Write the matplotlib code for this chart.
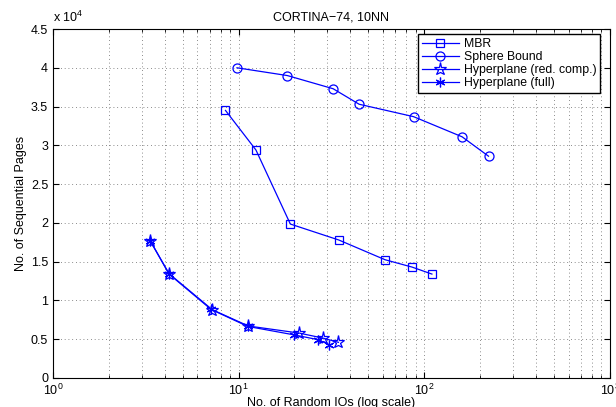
import numpy as np
import matplotlib
matplotlib.use('Agg')
import matplotlib.pyplot as plt
from matplotlib.ticker import FixedLocator, FuncFormatter, LogLocator

plt.rcParams['font.family'] = ['Liberation Sans', 'DejaVu Sans']
plt.rcParams['mathtext.default'] = 'regular'
plt.rcParams['font.size'] = 9

# data
mbr_x = [8.5, 12.4, 19.0, 34.6, 61.5, 86.0, 110.0]
mbr_y = [34500, 29400, 19850, 17800, 15250, 14300, 13400]

sphere_x = [9.8, 18.3, 32.3, 44.6, 87.6, 160.0, 222.0]
sphere_y = [40000, 39000, 37300, 35300, 33700, 31100, 28600]

hp_red_x = [3.34, 4.22, 7.22, 11.3, 21.1, 28.4, 34.5]
hp_red_y = [17700, 13450, 8800, 6700, 5800, 5150, 4600]

hp_full_x = [3.34, 4.22, 7.1, 11.2, 20.0, 26.7, 30.8]
hp_full_y = [17700, 13400, 8850, 6650, 5550, 4950, 4300]

y_ticks = np.arange(0, 4.51e4, 0.5e4)

fig = plt.figure(figsize=(6.16, 4.07), dpi=100)
ax = fig.add_axes([0.086, 0.0713, 0.904, 0.8574])

blue = (0, 0, 1)
ax.plot(mbr_x, mbr_y, color=blue, lw=0.9, marker='s', ms=5.5, mfc='none', mew=0.9, label='MBR')
ax.plot(sphere_x, sphere_y, color=blue, lw=0.9, marker='o', ms=6.5, mfc='none', mew=0.9, label='Sphere Bound')
ax.plot(hp_red_x, hp_red_y, color=blue, lw=0.9, marker='*', ms=9.5, mfc='none', mew=0.9,
        label='Hyperplane (red. comp.)')
ax.plot(hp_full_x, hp_full_y, color=blue, lw=0.9, marker=(6, 2, 0), ms=7, mew=0.9,
        label='Hyperplane (full)')

ax.set_xscale('log')
ax.set_xlim(1, 1000)
ax.set_ylim(0, 4.5e4)
ax.yaxis.set_major_locator(FixedLocator(y_ticks))
ax.yaxis.set_major_formatter(FuncFormatter(lambda v, p: ('%g' % (v / 1e4))))
ax.xaxis.set_minor_locator(LogLocator(base=10, subs=np.arange(2, 10)))

ax.grid(True, which='major', ls=(0, (1, 3.5)), color='0.4', lw=0.6)
ax.grid(True, which='minor', axis='x', ls=(0, (1, 3.5)), color='0.4', lw=0.6)

ax.tick_params(which='both', direction='in', top=True, right=True)
ax.tick_params(which='major', length=4)
ax.tick_params(which='minor', length=2)
for s in ax.spines.values():
    s.set_linewidth(0.8)

ax.set_title('CORTINA\u221274, 10NN', fontsize=9, pad=6)
ax.set_xlabel('No. of Random IOs (log scale)', labelpad=-1)
ax.set_ylabel('No. of Sequential Pages', labelpad=3)
ax.text(0.0, 1.012, r'x 10$^4$', transform=ax.transAxes, ha='left', va='bottom', fontsize=9)

leg = ax.legend(loc='upper right', bbox_to_anchor=(0.982, 0.985), fancybox=False, framealpha=1,
                edgecolor='black', handlelength=3.0, borderpad=0.3, labelspacing=0.08,
                handletextpad=0.4, borderaxespad=0, fontsize=8.8)
leg.get_frame().set_linewidth(1.0)

fig.savefig('out.png', dpi=100)
